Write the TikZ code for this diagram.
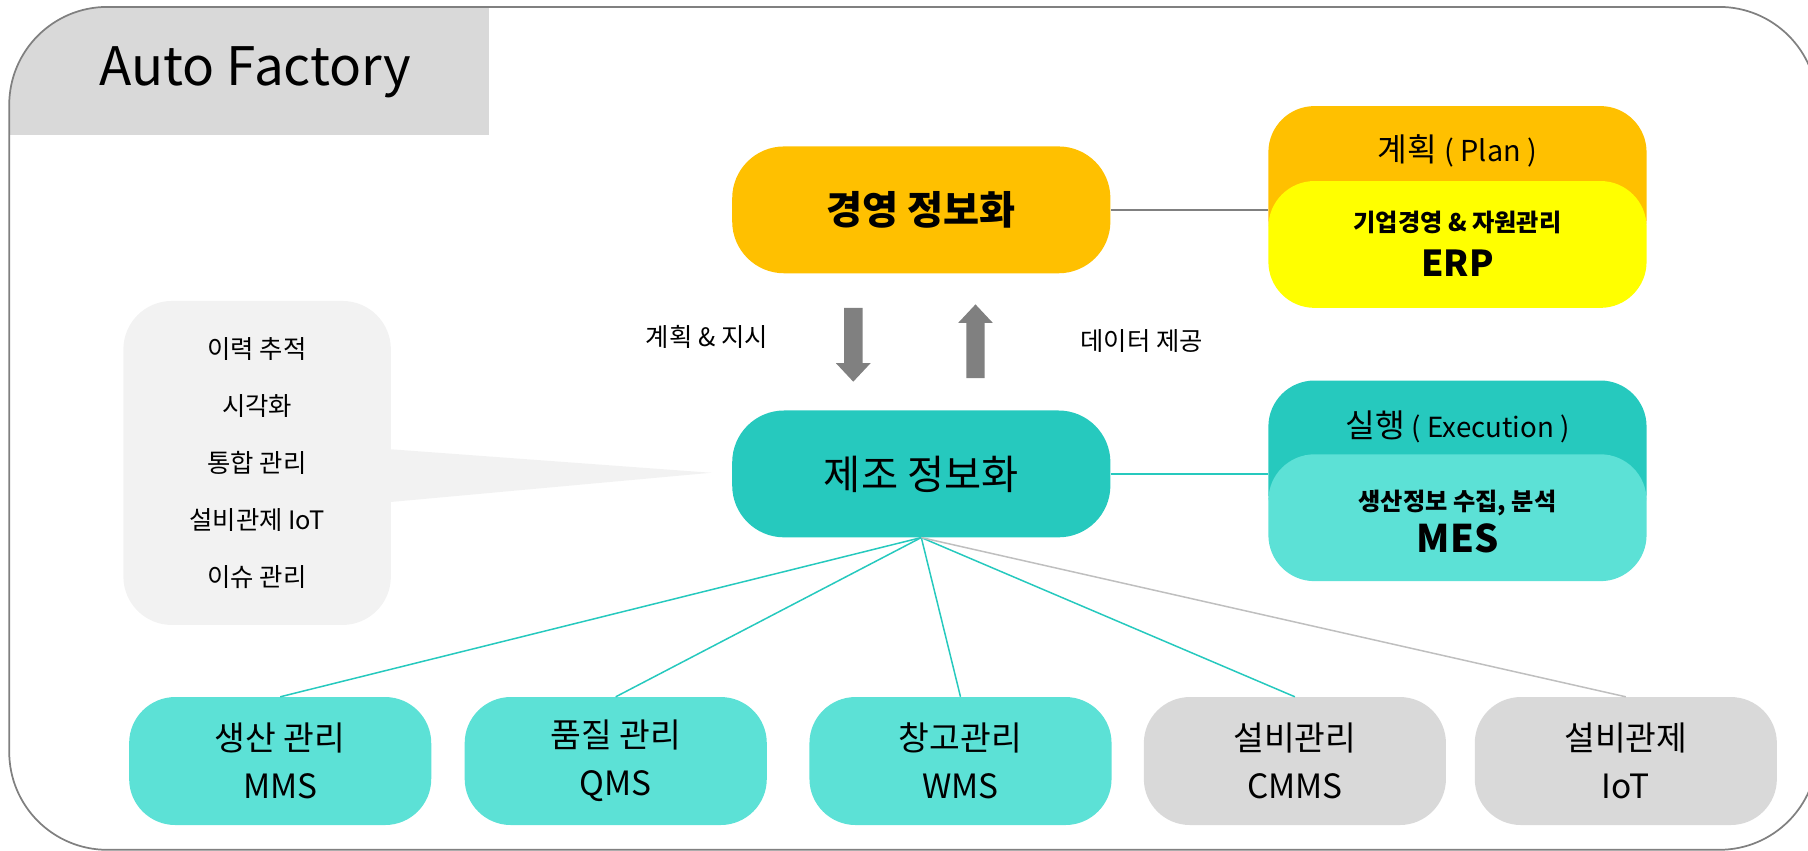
\documentclass[tikz,border=0pt]{standalone}
\usepackage{fontspec}
\setmainfont{Noto Sans CJK KR}
\usetikzlibrary{calc}
\definecolor{orangeA}{HTML}{FFC000}
\definecolor{yellowA}{HTML}{FFFF00}
\definecolor{tealD}{HTML}{26C9BE}
\definecolor{tealL}{HTML}{5CE1D6}
\definecolor{grayTab}{HTML}{D9D9D9}
\definecolor{grayBox}{HTML}{F2F2F2}
\definecolor{grayArrow}{HTML}{808080}
\definecolor{grayFrame}{HTML}{808080}
\definecolor{grayLine}{HTML}{BFBFBF}
\newcommand{\fs}[1]{\fontsize{#1}{#1}\selectfont}
\begin{document}
\begin{tikzpicture}[x=1pt,y=-1pt,
  pill/.style={rounded corners=45pt, minimum width=328pt, minimum height=110pt, inner sep=0pt},
  sysbox/.style={rounded corners=40pt, minimum width=328pt, minimum height=110pt, inner sep=0pt},
  botbox/.style={rounded corners=40pt, minimum width=262pt, minimum height=111pt, inner sep=0pt,
                 align=center, font=\fontsize{29}{42}\selectfont},
  txt/.style={inner sep=0pt},
  tealcon/.style={draw=tealD, line width=1.3pt},
  graycon/.style={draw=grayFrame, line width=1.3pt},
  lgraycon/.style={draw=grayLine, line width=1.3pt}]
\useasboundingbox (0,0) rectangle (1568,738);
% title tab clipped by frame corner
\begin{scope}
  \clip[rounded corners=85pt] (8,6) rectangle (1576,737);
  \fill[grayTab] (8,6) rectangle (424,117);
\end{scope}
\node[txt, anchor=west, font=\fs{46}] (title) at (86,63) {Auto Factory};
\draw[grayFrame, line width=1.5pt, rounded corners=85pt] (8,6) rectangle (1576,737);

% main nodes
\node[pill, fill=orangeA, font=\bfseries\fs{34}] (gy) at (799,182) {경영 정보화};
\node[pill, fill=tealD, font=\fs{35}] (jejo) at (799,411) {제조 정보화};

% side box with callout
\node[rounded corners=42pt, fill=grayBox, minimum width=232pt, minimum height=281pt, inner sep=0pt,
      align=center, font=\fontsize{22}{49.5}\selectfont] (side) at (223,401.5)
      {이력 추적\\시각화\\통합 관리\\설비관제 IoT\\이슈 관리};
\fill[grayBox] ($(side.east)+(-2,-12)$) -- ($(jejo.west)+(-18,-1)$) -- ($(side.east)+(-2,34)$) -- cycle;

% arrows
\coordinate (dn) at (740,267);
\coordinate (up) at (846,264);
\fill[grayArrow] ($(dn)+(-8,0)$) -- ($(dn)+(8,0)$) -- ($(dn)+(8,48)$) -- ($(dn)+(15,48)$) -- ($(dn)+(0,64)$)
  -- ($(dn)+(-15,48)$) -- ($(dn)+(-8,48)$) -- cycle;
\fill[grayArrow] (up) -- ($(up)+(15,16)$) -- ($(up)+(8,16)$) -- ($(up)+(8,64)$) -- ($(up)+(-8,64)$)
  -- ($(up)+(-8,16)$) -- ($(up)+(-15,16)$) -- cycle;
\node[txt, font=\fs{22}] (plan1) at (613,292) {계획 \& 지시};
\node[txt, font=\fs{22}] (data1) at (990,296) {데이터 제공};

% ERP stack
\node[sysbox, fill=orangeA, minimum height=138pt] (erpback) at (1264,161) {};
\draw[graycon] (gy.east) -- (gy.east -| erpback.west);
\node[sysbox, fill=yellowA] (erp) at (1264,212) {};
\node[txt] (plantxt) at (1264,131) {\fs{28}계획 \fs{25}( Plan )};
\node[txt, font=\bfseries\fs{21}] (erpsub) at (1264,193) {기업경영 \& 자원관리};
\node[txt, font=\bfseries\fs{31}] (erpname) at (1264,228) {ERP};

% MES stack
\node[sysbox, fill=tealD, minimum height=138pt] (mesback) at (1264,399) {};
\draw[tealcon] (jejo.east) -- (jejo.east -| mesback.west);
\node[sysbox, fill=tealL] (mes) at (1264,449) {};
\node[txt] (exectxt) at (1264,370) {\fs{28}실행 \fs{24}( Execution )};
\node[txt, font=\bfseries\fs{21}] (messub) at (1264,436) {생산정보 수집, 분석};
\node[txt, font=\bfseries\fs{33}] (mesname) at (1264,467) {MES};

% bottom boxes
\node[botbox, fill=tealL] (mms) at (243,660) {생산 관리\\MMS};
\node[botbox, fill=tealL] (qms) at (534,660) {품질 관리\\QMS};
\node[botbox, fill=tealL] (wms) at (833,660) {창고관리\\WMS};
\node[botbox, fill=grayTab] (cmms) at (1123,660) {설비관리\\CMMS};
\node[botbox, fill=grayTab] (iot) at (1410,660) {설비관제\\IoT};

\coordinate (hub) at (jejo.south);
\draw[tealcon] (hub) -- (mms.north);
\draw[tealcon] (hub) -- (qms.north);
\draw[tealcon] (hub) -- (wms.north);
\draw[tealcon] (hub) -- (cmms.north);
\draw[lgraycon] (hub) -- (iot.north);
\end{tikzpicture}
\end{document}
